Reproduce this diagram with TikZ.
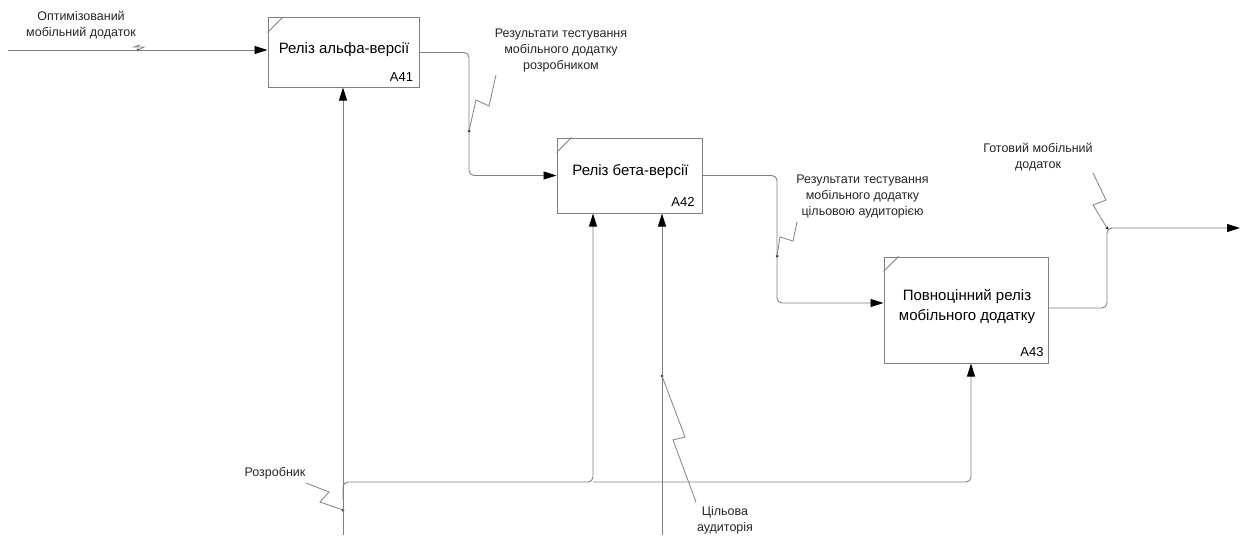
\documentclass[tikz,border=0pt]{standalone}
\usepackage{fontspec}
\setmainfont{Liberation Sans}
\usetikzlibrary{arrows.meta}
\begin{document}
\begin{tikzpicture}[x=1pt,y=-1pt,
  box/.style={draw=gray, line width=1pt, inner sep=0pt},
  conn/.style={draw=gray, line width=0.9pt, rounded corners=5pt},
  arr/.style={conn, -{Triangle[length=13pt,width=8pt,color=black]}},
  lbl/.style={font=\fontsize{12.5}{16}\selectfont, align=center, text=black!85, inner sep=0pt},
  btxt/.style={font=\fontsize{15}{20}\selectfont, align=center, inner sep=0pt},
  num/.style={font=\fontsize{13}{15}\selectfont, inner sep=0pt},
  sq/.style={draw=gray, line width=0.8pt},
  dot/.style={circle, fill=black, inner sep=0pt, minimum size=3pt}]
\useasboundingbox (0,0) rectangle (1241,535);

% boxes
\node[box, minimum width=151pt, minimum height=69pt] (a41) at (343.5,52.5) {};
\node[btxt] (t41) at (344,50) {Реліз альфа-версії};
\node[num] (n41) at (401.5,77) {A41};
\draw[box] (a41.north west) ++(0,15) -- ++(15,-15);

\node[box, minimum width=145pt, minimum height=75pt] (a42) at (629.5,175.5) {};
\node[btxt] (t42) at (630.5,172) {Реліз бета-версії};
\node[num] (n42) at (683,202) {A42};
\draw[box] (a42.north west) ++(0,15) -- ++(15,-15);

\node[box, minimum width=164pt, minimum height=106pt] (a43) at (966,310) {};
\node[btxt] (t43) at (967,306.5) {Повноцінний реліз\\мобільного додатку};
\node[num] (n43) at (1032,352.5) {A43};
\draw[box] (a43.north west) ++(0,15) -- ++(15,-15);

% coordinates
\coordinate (inS) at (8,50);
\coordinate (outE) at (1240,228);
\coordinate (devS) at (343,535);
\coordinate (devB) at (343,500);
\coordinate (j1) at (593,482);
\coordinate (j2) at (971,482);
\coordinate (audS) at (662,535);

% dots
\node[dot] (d0) at (138,50) {};
\node[dot] (r1) at (469,131) {};
\node[dot] (r2) at (777,256) {};
\node[dot] (r3) at (1107,228) {};
\node[dot] (d4) at (343,510) {};
\node[dot] (d5) at (662,376) {};

% connectors
\draw[arr] (inS) -- (inS -| a41.west);
\draw[arr] (a41.east) -| (r1.center) |- (a42.west);
\draw[arr] (a42.east) -| (r2.center) |- ([yshift=7pt]a43.west);
\draw[arr] ([yshift=2pt]a43.east) -| (r3.center) -- (outE);
\draw[arr] (devS) -- (devS |- a41.south);
\draw[arr] (devB) |- (j1) -- (j1 |- a42.south);
\draw[arr] (j1) -- (j2) -- (j2 |- a43.south);
\draw[arr] (audS) -- (audS |- a42.south);

% squiggles
\draw[sq] (d0.center) -- (144,47) -- (134,47) -- (140,45);
\draw[sq] (r1.center) -- (476,100) -- (489,106) -- (496,75);
\draw[sq] (r2.center) -- (780,237) -- (793,241) -- (797,222);
\draw[sq] (r3.center) -- (1093,205) -- (1106,200) -- (1093,173);
\draw[sq] (d4.center) -- (320,502) -- (329,492) -- (306,483);
\draw[sq] (d5.center) -- (685,437) -- (673,440) -- (696,502);

% labels
\node[lbl] (l0) at (81,25) {Оптимізований\\мобільний додаток};
\node[lbl] (l1) at (561,50.5) {Результати тестування\\мобільного додатку\\розробником};
\node[lbl] (l2) at (862.5,196) {Результати тестування\\мобільного додатку\\цільовою аудиторією};
\node[lbl] (l3) at (1038,157) {Готовий мобільний\\додаток};
\node[lbl] (l4) at (275,473) {Розробник};
\node[lbl] (l5) at (725,520.5) {Цільова\\аудиторія};
\end{tikzpicture}
\end{document}
